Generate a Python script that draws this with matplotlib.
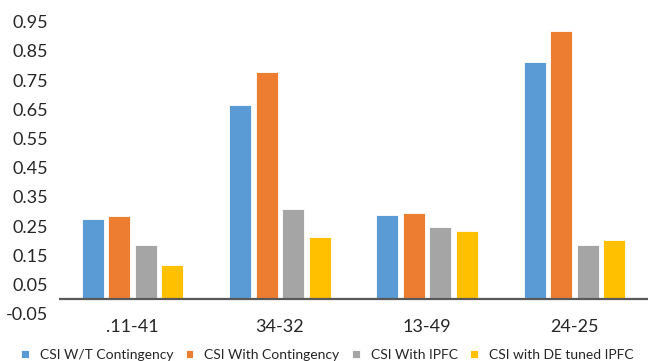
import numpy as np
import matplotlib
matplotlib.use("Agg")
import matplotlib.pyplot as plt

categories = [".11-41", "34-32", "13-49", "24-25"]
series_names = ["CSI W/T Contingency", "CSI With Contingency",
                "CSI With IPFC", "CSI with DE tuned IPFC"]
wt_contingency = [0.275, 0.665, 0.288, 0.813]
with_contingency = [0.285, 0.776, 0.296, 0.918]
with_ipfc = [0.186, 0.307, 0.246, 0.184]
de_tuned_ipfc = [0.116, 0.212, 0.234, 0.202]
yticks = [-0.05, 0.05, 0.15, 0.25, 0.35, 0.45, 0.55, 0.65, 0.75, 0.85, 0.95]

colors = ["#5B9BD5", "#ED7D31", "#A5A5A5", "#FFC000"]

plt.rcParams['font.family'] = ['Lato', 'DejaVu Sans']

fig = plt.figure(figsize=(6.48, 3.61), dpi=100)
ax = fig.add_axes([0.091, 0.131, 0.909, 0.809])

x = np.arange(len(categories))
pitch = 0.18
width = 0.15
data = [wt_contingency, with_contingency, with_ipfc, de_tuned_ipfc]
for i, (vals, name, c) in enumerate(zip(data, series_names, colors)):
    ax.bar(x + (i - 1.5) * pitch, vals, width, color=c, label=name,
           edgecolor='white', linewidth=0.6, zorder=2)

ax.axhline(0, color='#595959', linewidth=1.6, zorder=3)

ax.set_xlim(-0.5, len(categories) - 0.5)
ax.set_ylim(-0.05, 0.95)
ax.set_yticks(yticks)
ax.set_yticklabels(["%.2f" % v for v in yticks])
ax.set_xticks(x)
ax.set_xticklabels(categories)

for s in ax.spines.values():
    s.set_visible(False)
ax.tick_params(axis='both', length=0, labelsize=13, colors='#262626')
ax.tick_params(axis='y', pad=8)
ax.tick_params(axis='x', pad=4)

leg = fig.legend(loc='lower center', bbox_to_anchor=(0.505, -0.035), ncol=4,
                 frameon=False, fontsize=10, handlelength=0.55,
                 handleheight=0.55, handletextpad=0.8, columnspacing=0.9,
                 labelcolor='#262626')

fig.savefig("out.png", dpi=100)
